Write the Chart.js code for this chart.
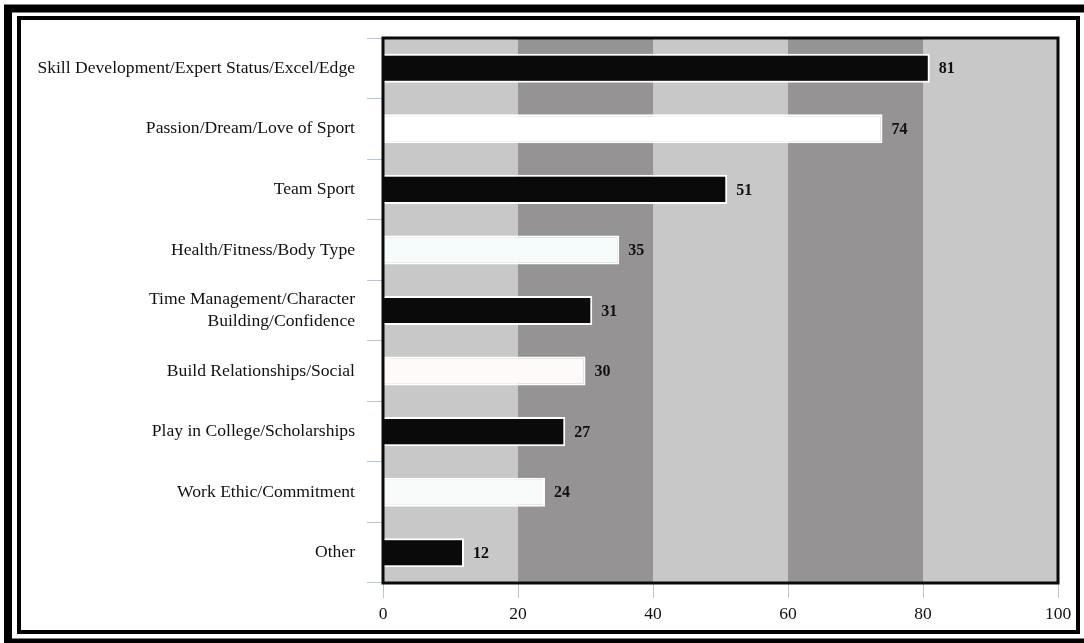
<!DOCTYPE html>
<html>
<head>
<meta charset="utf-8">
<script src="https://cdn.jsdelivr.net/npm/chart.js@4.4.0/dist/chart.umd.min.js"></script>
<style>
  html, body { margin: 0; padding: 0; background: #fff; }
  #wrap { position: relative; width: 1084px; height: 643px; }
</style>
</head>
<body>
<div id="wrap"><canvas id="reasonsChart" width="1084" height="643"></canvas></div>
<script>
const categories = [
  'Skill Development/Expert Status/Excel/Edge',
  'Passion/Dream/Love of Sport',
  'Team Sport',
  'Health/Fitness/Body Type',
  ['Time Management/Character', 'Building/Confidence'],
  'Build Relationships/Social',
  'Play in College/Scholarships',
  'Work Ethic/Commitment',
  'Other'
];
const counts = [81, 74, 51, 35, 31, 30, 27, 24, 12];
const barColors = ['#0a0a0a', '#ffffff', '#0a0a0a', '#f5fafa', '#0a0a0a', '#fffafa', '#0a0a0a', '#f8fbfa', '#0a0a0a'];
const xTicks = [0, 20, 40, 60, 80, 100];
const bandColors = ['#c8c8c8', '#959393', '#c8c8c8', '#959393', '#c8c8c8'];

const serif = '"Liberation Serif", "Times New Roman", serif';

// frame, background bands, plot border, value labels
const decor = {
  id: 'decor',
  beforeDraw(chart) {
    const c = chart.ctx;
    c.save();
    c.fillStyle = '#fff';
    c.fillRect(0, 0, chart.width, chart.height);
    c.strokeStyle = '#000';
    c.lineWidth = 8;
    c.strokeRect(8, 8.5, 1100, 634);
    c.lineWidth = 4;
    c.strokeRect(19, 18, 1059, 614);
    c.restore();
  },
  beforeDatasetsDraw(chart) {
    const c = chart.ctx, x = chart.scales.x, a = chart.chartArea;
    c.save();
    for (let i = 0; i < xTicks.length - 1; i++) {
      const x0 = x.getPixelForValue(xTicks[i]);
      const x1 = x.getPixelForValue(xTicks[i + 1]);
      c.fillStyle = bandColors[i];
      c.fillRect(x0, a.top, x1 - x0, a.bottom - a.top);
    }
    c.restore();
  },
  afterDatasetsDraw(chart) {
    const c = chart.ctx, a = chart.chartArea;
    c.save();
    c.strokeStyle = '#0a0a0a';
    c.lineWidth = 3;
    c.strokeRect(a.left, a.top, a.right - a.left, a.bottom - a.top);
    const meta = chart.getDatasetMeta(0);
    c.fillStyle = '#111';
    c.font = 'bold 16px ' + serif;
    c.textBaseline = 'middle';
    c.textAlign = 'left';
    meta.data.forEach((bar, i) => {
      c.fillText(String(counts[i]), bar.x + 9, bar.y + 1);
    });
    c.restore();
  }
};

new Chart(document.getElementById('reasonsChart'), {
  type: 'bar',
  data: {
    labels: categories,
    datasets: [{
      data: counts,
      backgroundColor: barColors,
      borderColor: '#ffffff',
      borderWidth: 2,
      borderSkipped: 'left',
      barPercentage: 0.48,
      categoryPercentage: 1
    }]
  },
  options: {
    indexAxis: 'y',
    responsive: false,
    animation: false,
    layout: { padding: { top: 38, right: 26, left: 0, bottom: 0 } },
    plugins: { legend: { display: false }, tooltip: { enabled: false } },
    scales: {
      x: {
        min: 0,
        max: 100,
        afterFit(s) { s.height = 60; },
        border: { display: false },
        grid: { drawOnChartArea: false, drawTicks: true, tickLength: 15, color: '#b4c6d8' },
        ticks: {
          stepSize: 20,
          padding: 6,
          color: '#111',
          font: { family: serif, size: 17.5 }
        }
      },
      y: {
        afterFit(s) { s.width = 383; },
        border: { display: false },
        grid: { drawOnChartArea: false, drawTicks: true, tickLength: 16, color: '#b4c6d8' },
        ticks: {
          padding: 12,
          color: '#111',
          font: { family: serif, size: 17.6, lineHeight: 1.25 }
        }
      }
    }
  },
  plugins: [decor]
});
</script>
</body>
</html>
